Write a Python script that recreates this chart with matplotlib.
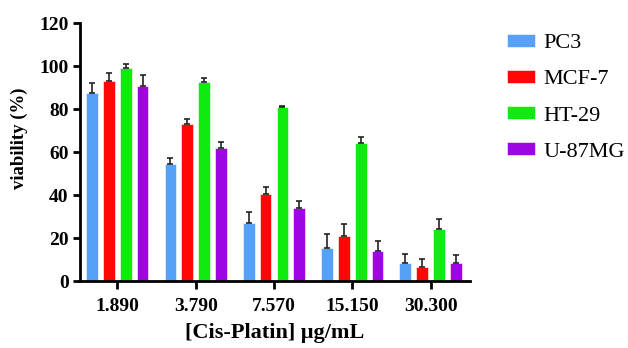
import numpy as np
import matplotlib
matplotlib.use('Agg')
import matplotlib.pyplot as plt

plt.rcParams['font.family'] = ['Liberation Serif', 'DejaVu Serif']

doses = ['1.890', '3.790', '7.570', '15.150', '30.300']
lines = ['PC3', 'MCF-7', 'HT-29', 'U-87MG']
colors = ['#55A1F7', '#FF0505', '#0FEA0F', '#9E05E3']

pc3 = [87.6, 54.4, 27.2, 15.2, 8.4]
pc3_err = [4.7, 2.9, 4.7, 6.8, 4.0]
mcf7 = [93.0, 73.2, 40.6, 20.9, 6.5]
mcf7_err = [3.8, 2.0, 3.1, 5.8, 3.6]
ht29 = [99.0, 92.8, 80.8, 64.2, 24.0]
ht29_err = [1.9, 1.8, 0.6, 2.8, 5.0]
u87 = [90.9, 62.0, 34.2, 14.1, 8.4]
u87_err = [5.1, 2.7, 3.1, 4.4, 3.6]

values = [pc3, mcf7, ht29, u87]
errors = [pc3_err, mcf7_err, ht29_err, u87_err]

fig = plt.figure(figsize=(6.28, 3.48), dpi=100)
ax = fig.add_axes([0.127, 0.1925, 0.621, 0.741])

x = np.arange(len(doses))
width = 0.15
step = 0.215
for i, (vals, errs) in enumerate(zip(values, errors)):
    pos = x + (i - 1.5) * step
    ax.bar(pos, vals, width, color=colors[i], label=lines[i],
           edgecolor='white', linewidth=0.4, zorder=2)
    ax.errorbar(pos, vals, yerr=[np.zeros(len(errs)), errs], fmt='none',
                ecolor='#222222', elinewidth=1.2, capsize=2.5, capthick=1.2, zorder=3)

ax.set_xlim(-0.48, 4.5)
ax.set_ylim(0, 120)
ax.set_yticks(range(0, 121, 20))
ax.set_xticks(x)
ax.set_xticklabels(doses)
for lab in ax.get_xticklabels() + ax.get_yticklabels():
    lab.set_fontweight('bold')
    lab.set_fontsize(14)

ax.spines['top'].set_visible(False)
ax.spines['right'].set_visible(False)
ax.spines['left'].set_linewidth(2)
ax.spines['bottom'].set_linewidth(2)
ax.tick_params(axis='both', width=2, length=5, direction='out', pad=3)
ax.tick_params(axis='x', length=6, pad=6)

ax.set_ylabel('viability (%)', fontsize=13.5, fontweight='bold')
ax.yaxis.set_label_coords(-0.132, 0.555)
ax.set_xlabel('[Cis-Platin] μg/mL', fontsize=16, fontweight='bold', labelpad=6)

fig.legend(loc='upper left', bbox_to_anchor=(0.807, 0.903), frameon=False,
           fontsize=16, handlelength=1.26, handleheight=0.56, labelspacing=0.74,
           handletextpad=0.4, borderpad=0, borderaxespad=0)

fig.savefig('out.png', dpi=100)
